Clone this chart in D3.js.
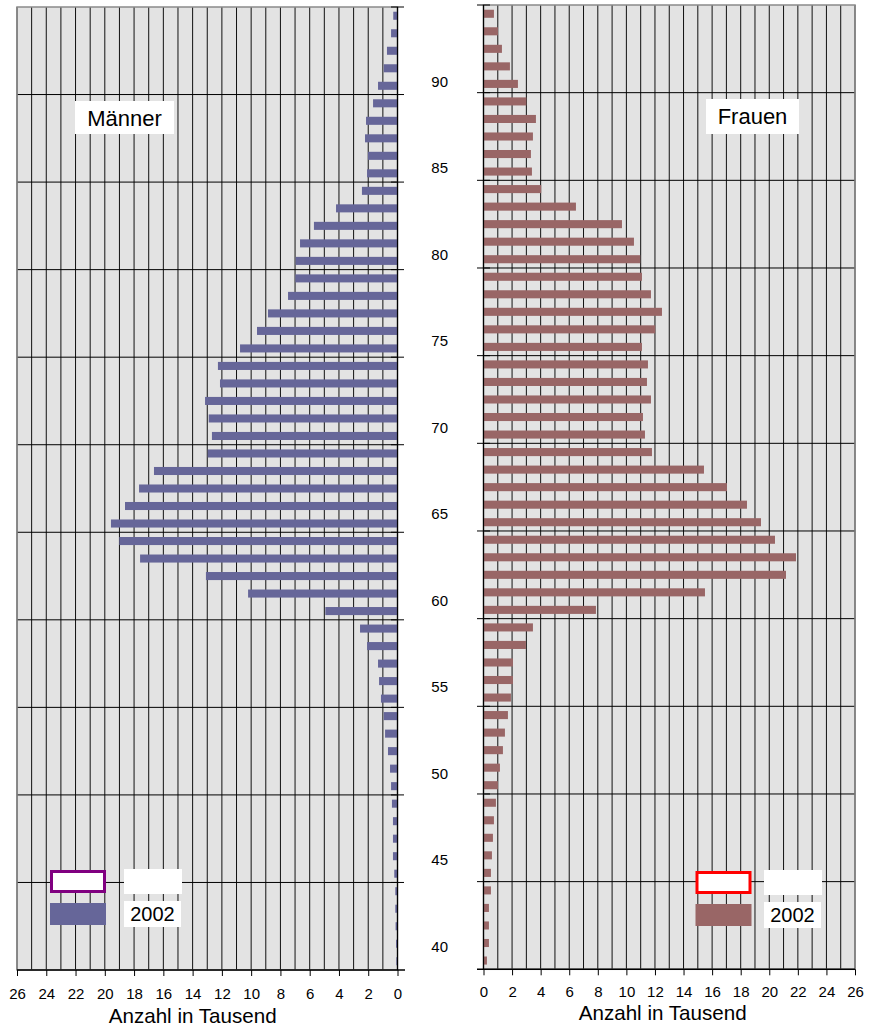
<!DOCTYPE html>
<html>
<head>
<meta charset="utf-8">
<script src="https://cdn.jsdelivr.net/npm/d3@7"></script>
<style>
  html, body { margin: 0; padding: 0; background: #fff; }
  svg text { font-family: "Liberation Sans", Arial, sans-serif; fill: #000; }
</style>
</head>
<body>
<svg id="chart" width="870" height="1028"></svg>
<script>
// ---------- data ----------
const ages = [94,93,92,91,90,89,88,87,86,85,84,83,82,81,80,79,78,77,76,75,74,73,72,71,70,
              69,68,67,66,65,64,63,62,61,60,59,58,57,56,55,54,53,52,51,50,49,48,47,46,45,
              44,43,42,41,40];
const maleValues = [0.29,0.44,0.72,0.94,1.33,1.67,2.15,2.22,2.02,2.08,2.43,4.20,5.71,6.66,6.96,
                    6.98,7.48,8.85,9.60,10.76,12.27,12.13,13.15,12.90,12.68,12.97,16.64,17.66,18.62,19.58,
                    19.01,17.59,13.09,10.21,4.93,2.56,2.08,1.33,1.26,1.13,0.94,0.85,0.65,0.51,0.44,
                    0.38,0.31,0.31,0.31,0.22,0.15,0.15,0.13,0.10,0.08];
const femaleValues = [0.73,1.01,1.29,1.85,2.41,3.00,3.67,3.46,3.32,3.39,4.04,6.47,9.69,10.53,10.97,
                      11.09,11.72,12.49,12.02,11.09,11.51,11.44,11.72,11.16,11.30,11.79,15.43,17.04,18.44,19.42,
                      20.40,21.87,21.17,15.50,7.87,3.46,2.97,2.06,2.06,1.92,1.71,1.50,1.36,1.15,1.01,
                      0.87,0.73,0.66,0.59,0.52,0.52,0.38,0.38,0.38,0.24];
const xTickValues = [0,2,4,6,8,10,12,14,16,18,20,22,24,26];
const ageLabels = [90,85,80,75,70,65,60,55,50,45,40];
const panelTitles = ["Männer","Frauen"];
const legendYear = "2002";
const axisTitle = "Anzahl in Tausend";

const svg = d3.select("#chart");

function drawPanel(cfg) {
  const g = svg.append("g");
  const x = d3.scaleLinear().domain([0, 26]).range(cfg.xRange);
  const y = d3.scaleBand().domain(ages).range(cfg.yRange).paddingInner(0.54).paddingOuter(0.27);
  const step = y.step();
  const left = Math.min(cfg.xRange[0], cfg.xRange[1]);
  const right = Math.max(cfg.xRange[0], cfg.xRange[1]);
  const top = cfg.yRange[0], bottom = cfg.yRange[1];

  g.append("rect").attr("x", left).attr("y", top).attr("width", right - left).attr("height", bottom - top)
    .attr("fill", "#e3e3e3");

  // vertical gridlines every 1 thousand
  g.append("g").selectAll("line").data(d3.range(0, 27)).join("line")
    .attr("x1", d => x(d)).attr("x2", d => x(d)).attr("y1", top).attr("y2", bottom)
    .attr("stroke", "#111").attr("stroke-width", 1);

  // horizontal major gridlines every 5 categories
  const boundaryIdx = [5,10,15,20,25,30,35,40,45,50];
  g.append("g").selectAll("line").data(boundaryIdx).join("line")
    .attr("x1", left).attr("x2", right)
    .attr("y1", i => y(ages[i]) - step * 0.27).attr("y2", i => y(ages[i]) - step * 0.27)
    .attr("stroke", "#000").attr("stroke-width", 1);

  // border
  g.append("rect").attr("x", left).attr("y", top).attr("width", right - left).attr("height", bottom - top)
    .attr("fill", "none").attr("stroke", "#8a8a8a").attr("stroke-width", 1.5);

  // bars
  g.append("g").selectAll("rect").data(cfg.values).join("rect")
    .attr("x", d => Math.min(x(0), x(d)))
    .attr("width", d => Math.abs(x(d) - x(0)))
    .attr("y", (d, i) => y(ages[i]))
    .attr("height", y.bandwidth())
    .attr("fill", cfg.color);

  // zero axis line + cross ticks
  g.append("line").attr("x1", x(0)).attr("x2", x(0)).attr("y1", top).attr("y2", bottom)
    .attr("stroke", "#000").attr("stroke-width", 1.2);
  g.append("g").selectAll("line").data([0].concat(boundaryIdx)).join("line")
    .attr("x1", x(0) - 6.5).attr("x2", x(0) + 6.5)
    .attr("y1", i => y(ages[i]) - step * 0.27).attr("y2", i => y(ages[i]) - step * 0.27)
    .attr("stroke", "#000").attr("stroke-width", 1);

  // bottom axis
  const ax = d3.axisBottom(x).tickValues(xTickValues).tickSize(6).tickSizeOuter(0);
  const axG = g.append("g").attr("transform", `translate(0,${bottom})`).call(ax);
  axG.select(".domain").remove();
  axG.selectAll(".tick line").attr("stroke", "#000");
  axG.selectAll(".tick text").attr("y", cfg.tickTextY).attr("dy", 0)
    .style("font-size", "15px").style("font-family", '"Liberation Sans", Arial, sans-serif').attr("fill", "#000");
  g.append("line").attr("x1", cfg.axisExt[0]).attr("x2", cfg.axisExt[1]).attr("y1", bottom).attr("y2", bottom)
    .attr("stroke", "#000").attr("stroke-width", 1.5);

  g.append("text").attr("x", cfg.titleX).attr("y", cfg.titleY).attr("text-anchor", "middle")
    .style("font-size", "20.6px").text(axisTitle);

  // panel title box
  g.append("rect").attr("x", cfg.box[0]).attr("y", cfg.box[1]).attr("width", cfg.box[2]).attr("height", cfg.box[3])
    .attr("fill", "#fff");
  g.append("text").attr("x", cfg.box[0] + cfg.box[2] / 2).attr("y", cfg.box[1] + 25)
    .attr("text-anchor", "middle").style("font-size", "22px").text(cfg.title);

  // legend
  const L = cfg.legend;
  g.append("rect").attr("x", L.x + 1.5).attr("y", L.y + 1.5).attr("width", 53).attr("height", 20)
    .attr("fill", "#fff").attr("stroke", L.outline).attr("stroke-width", 3);
  g.append("rect").attr("x", L.tx).attr("y", L.y - 1).attr("width", 58).attr("height", 25).attr("fill", "#fff");
  g.append("rect").attr("x", L.x).attr("y", L.y + 33).attr("width", 56).attr("height", 22).attr("fill", cfg.color);
  g.append("rect").attr("x", L.tx).attr("y", L.y + 31).attr("width", 57).attr("height", 26).attr("fill", "#fff");
  g.append("text").attr("x", L.tx + 28.5).attr("y", L.y + 51).attr("text-anchor", "middle")
    .style("font-size", "20px").text(legendYear);
  return { x, y };
}

drawPanel({
  xRange: [397.5, 17], yRange: [7, 970], values: maleValues, color: "#666699",
  axisExt: [17, 405], titleX: 192.7, titleY: 1023.3, tickTextY: 28.5,
  title: panelTitles[0], box: [75, 101, 99, 33],
  legend: { x: 50, y: 870, outline: "#800080", tx: 124 }
});
drawPanel({
  xRange: [483.5, 855], yRange: [5, 969.3], values: femaleValues, color: "#996666",
  axisExt: [477, 855], titleX: 662.7, titleY: 1019.5, tickTextY: 27.5,
  title: panelTitles[1], box: [706, 99, 93, 35],
  legend: { x: 695.5, y: 871, outline: "#ff0000", tx: 764 }
});

// age labels (category axis labels, every 5 years)
const ageLabelScale = d3.scaleLinear().domain([90, 40]).range([81, 945.7]);
const ageAxis = d3.axisLeft(ageLabelScale).tickValues(ageLabels).tickSize(0).tickPadding(0);
const ageG = svg.append("g").attr("transform", "translate(448,0)").call(ageAxis);
ageG.select(".domain").remove();
ageG.selectAll(".tick text").attr("dy", "0.36em")
  .style("font-size", "15px").style("font-family", '"Liberation Sans", Arial, sans-serif').attr("fill", "#000");
</script>
</body>
</html>
